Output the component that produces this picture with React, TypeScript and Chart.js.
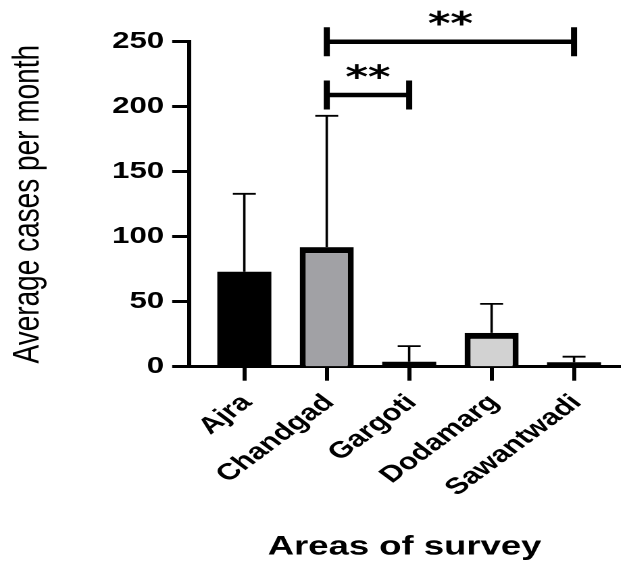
import { useEffect, useRef } from 'react';
import { Chart, registerables } from 'chart.js';

Chart.register(...registerables);

// ---- data ----
const categories = ['Ajra', 'Chandgad', 'Gargoti', 'Dodamarg', 'Sawantwadi'];
const means = [73, 92, 3.8, 26, 3.4];
const sds = [60, 101, 12, 22.3, 4.3];
const barColors = ['#000000', '#a1a1a5', '#000000', '#d2d2d2', '#000000'];
const yTickMin = 0;
const yTickMax = 250;
const yTickStep = 50;
const bracketFrom = [1, 1];
const bracketTo = [4, 2];
const bracketLevel = [250, 209];
const bracketLabels = ['**', '**'];
const yTitle = 'Average cases per month';
const xTitle = 'Areas of survey';

// ---- layout (drawn at narrow width, displayed stretched like the reference) ----
const CANVAS_W = 464;
const CANVAS_H = 567;
const DISPLAY_W = 627;
const AXIS_LEFT = 140;
const AREA_RIGHT = 458.8;
const AREA_TOP = 41.7;
const AREA_BOTTOM = 366.7;
const FIRST_CAT_PX = 180.8;
const CAT_STEP_PX = 61;
const FONT = '"Liberation Sans", Arial, sans-serif';

const errorBarsPlugin = {
  id: 'errorBars',
  afterDatasetsDraw(chart: any) {
    const { ctx, scales } = chart;
    const xs = scales.x;
    const ys = scales.y;
    ctx.save();
    ctx.strokeStyle = '#000';
    ctx.lineWidth = 1.8;
    means.forEach((m, i) => {
      const x = xs.getPixelForValue(i);
      const y0 = ys.getPixelForValue(m);
      const y1 = ys.getPixelForValue(m + sds[i]);
      ctx.beginPath();
      ctx.moveTo(x, y0);
      ctx.lineTo(x, y1);
      ctx.moveTo(x - 8.5, y1);
      ctx.lineTo(x + 8.5, y1);
      ctx.stroke();
    });
    ctx.restore();
  },
};

const bracketsPlugin = {
  id: 'sigBrackets',
  afterDraw(chart: any) {
    const { ctx, scales } = chart;
    const xs = scales.x;
    const ys = scales.y;
    ctx.save();
    ctx.strokeStyle = '#000';
    ctx.fillStyle = '#000';
    ctx.lineWidth = 4.5;
    ctx.lineCap = 'butt';
    bracketFrom.forEach((from, i) => {
      const x1 = xs.getPixelForValue(from);
      const x2 = xs.getPixelForValue(bracketTo[i]);
      const y = ys.getPixelForValue(bracketLevel[i]);
      ctx.beginPath();
      ctx.moveTo(x1, y);
      ctx.lineTo(x2, y);
      ctx.moveTo(x1, y - 14.5);
      ctx.lineTo(x1, y + 14.5);
      ctx.moveTo(x2, y - 14.5);
      ctx.lineTo(x2, y + 14.5);
      ctx.stroke();
      ctx.font = 'bold 32px "DejaVu Sans", sans-serif';
      ctx.textAlign = 'center';
      ctx.textBaseline = 'alphabetic';
      const m = ctx.measureText(bracketLabels[i]);
      const cy = y - 22.5;
      const base = cy + (m.actualBoundingBoxAscent - m.actualBoundingBoxDescent) / 2;
      ctx.fillText(bracketLabels[i], (x1 + x2) / 2, base);
    });
    ctx.restore();
  },
};

export default function App() {
  const ref = useRef<HTMLCanvasElement>(null);

  useEffect(() => {
    const canvas = ref.current;
    if (!canvas) return;
    Chart.defaults.color = '#000';
    const chart = new Chart(canvas, {
      type: 'bar',
      data: {
        datasets: [
          {
            data: means.map((v, i) => ({ x: i, y: v })),
            backgroundColor: barColors,
            borderColor: '#000',
            borderWidth: (c: any) =>
              barColors[c.dataIndex] === '#000000' ? 0 : { top: 6, left: 4.5, right: 4.5, bottom: 0 },
            borderSkipped: 'start',
            barThickness: 40,
            inflateAmount: 0,
          },
        ],
      },
      options: {
        responsive: false,
        animation: false,
        devicePixelRatio: 2,
        layout: {
          padding: { top: AREA_TOP, right: CANVAS_W - AREA_RIGHT, left: 0, bottom: 0 },
        },
        plugins: {
          legend: { display: false },
          tooltip: { enabled: false },
        },
        scales: {
          x: {
            type: 'linear',
            offset: false,
            min: -(FIRST_CAT_PX - AXIS_LEFT) / CAT_STEP_PX,
            max: (AREA_RIGHT - FIRST_CAT_PX) / CAT_STEP_PX,
            afterBuildTicks: (scale: any) => {
              scale.ticks = categories.map((_, i) => ({ value: i }));
            },
            afterFit: (scale: any) => {
              scale.height = CANVAS_H - AREA_BOTTOM;
            },
            ticks: {
              autoSkip: false,
              minRotation: 45,
              maxRotation: 45,
              padding: 8.5,
              labelOffset: 2,
              color: '#000',
              font: { family: FONT, size: 23, weight: 'bold' },
              callback: (v: any) => categories[v as number] ?? '',
            },
            grid: {
              display: true,
              offset: false,
              drawOnChartArea: false,
              drawTicks: true,
              tickLength: 14,
              tickWidth: 3,
              tickColor: '#000',
            },
            border: { display: true, color: '#000', width: 3 },
            title: {
              display: true,
              text: xTitle,
              color: '#000',
              font: { family: FONT, size: 27, weight: 'bold' },
              padding: { top: 0, bottom: 4 },
            },
          },
          y: {
            min: yTickMin,
            max: yTickMax,
            afterFit: (scale: any) => {
              scale.width = AXIS_LEFT;
            },
            ticks: {
              stepSize: yTickStep,
              padding: 6,
              color: '#000',
              font: { family: FONT, size: 23, weight: 'bold' },
            },
            grid: {
              display: true,
              drawOnChartArea: false,
              drawTicks: true,
              tickLength: 12.6,
              tickWidth: 3,
              tickColor: '#000',
            },
            border: { display: true, color: '#000', width: 3 },
            title: {
              display: true,
              text: yTitle,
              color: '#000',
              font: { family: FONT, size: 28, weight: 'normal' },
              padding: { top: 4, bottom: 0 },
            },
          },
        },
      } as any,
      plugins: [errorBarsPlugin, bracketsPlugin],
    });
    return () => chart.destroy();
  }, []);

  return (
    <canvas
      ref={ref}
      width={CANVAS_W}
      height={CANVAS_H}
      style={{
        position: 'fixed',
        left: 0,
        top: 0,
        width: DISPLAY_W + 'px',
        height: CANVAS_H + 'px',
      }}
    />
  );
}
